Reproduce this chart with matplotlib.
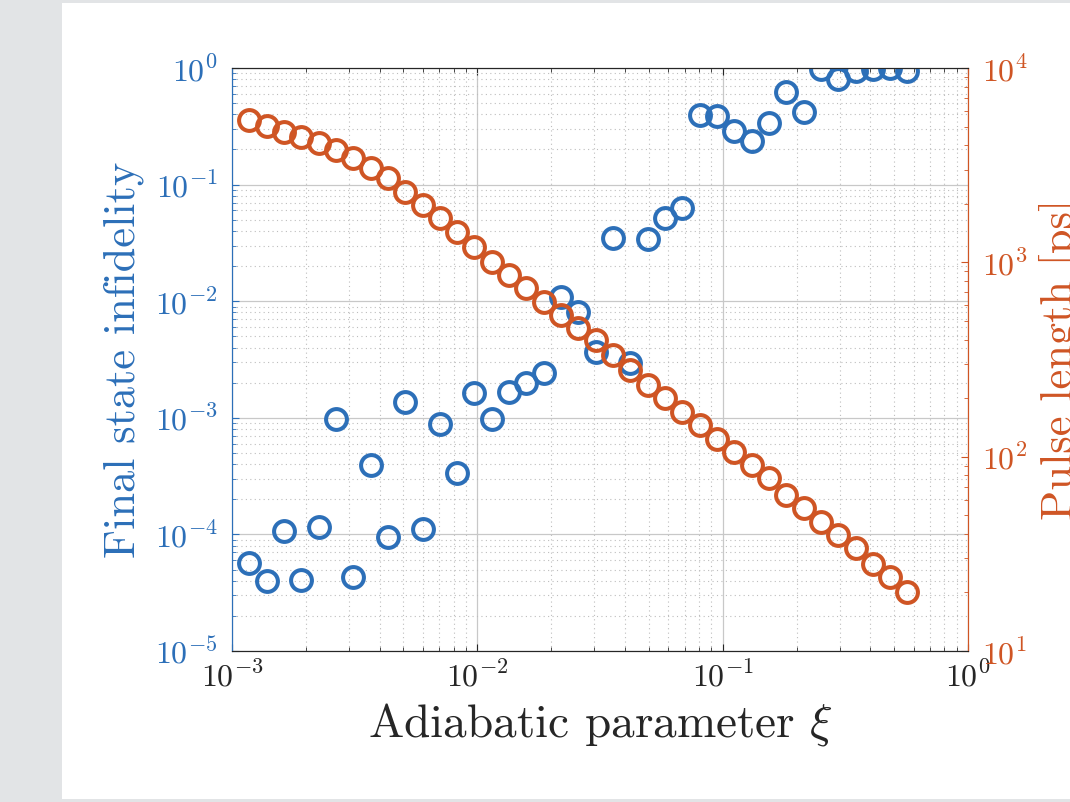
import math
import matplotlib
matplotlib.use("Agg")
import matplotlib.pyplot as plt
from matplotlib.patches import Rectangle
from matplotlib.ticker import LogLocator, FuncFormatter, NullFormatter

# MATLAB-like LaTeX look
plt.rcParams["mathtext.fontset"] = "cm"
plt.rcParams["font.family"] = "serif"
plt.rcParams["font.serif"] = ["cmr10", "DejaVu Serif"]
plt.rcParams["axes.formatter.use_mathtext"] = True

xi = [1.176e-3, 1.384e-3, 1.628e-3, 1.915e-3, 2.254e-3, 2.652e-3, 3.120e-3,
      3.671e-3, 4.319e-3, 5.081e-3, 5.978e-3, 7.033e-3, 8.275e-3, 9.734e-3,
      1.145e-2, 1.347e-2, 1.585e-2, 1.865e-2, 2.194e-2, 2.582e-2, 3.037e-2,
      3.573e-2, 4.204e-2, 4.946e-2, 5.819e-2, 6.846e-2, 8.055e-2, 9.478e-2,
      0.1115, 0.1312, 0.1543, 0.1816, 0.2136, 0.2513, 0.2957, 0.3479,
      0.4093, 0.4816, 0.5666]

# final state infidelity (left axis)
infidelity = [5.65e-5, 4.01e-5, 1.07e-4, 4.06e-5, 1.16e-4, 9.70e-4, 4.34e-5,
              3.91e-4, 9.44e-5, 1.37e-3, 1.12e-4, 8.80e-4, 3.38e-4, 1.62e-3,
              9.77e-4, 1.66e-3, 2.00e-3, 2.41e-3, 1.09e-2, 8.13e-3, 3.67e-3,
              3.46e-2, 2.93e-3, 3.41e-2, 5.14e-2, 6.34e-2, 0.395, 0.388,
              0.288, 0.238, 0.336, 0.626, 0.422, 0.975, 0.800, 0.948, 0.975,
              0.994, 0.948]

# pulse length in ps (right axis)
pulse_len = [5400, 5047, 4700, 4431, 4098, 3784, 3430, 3046, 2706, 2309,
             1972, 1684, 1427, 1203, 1007, 860, 735, 627, 535, 457, 398,
             333, 279, 234, 200, 170, 145, 124, 106, 90.5, 77.3, 63.5, 54.2,
             46.2, 39.5, 33.7, 28.2, 24.1, 20.2]

blue = "#2c6fb8"
orange = "#cf5524"
dark = "#262626"

fig = plt.figure(figsize=(10.7, 8.02), dpi=100)
fig.patch.set_facecolor("#e2e4e6")
fig.patches.append(Rectangle((62 / 1070, 3 / 802), 1 - 62 / 1070, 1 - 6 / 802,
                             transform=fig.transFigure, facecolor="white",
                             edgecolor="none", zorder=0))

ax = fig.add_axes([232 / 1070, 1 - 651 / 802, 736 / 1070, 583 / 802])
ax2 = ax.twinx()


def pow10(v, pos):
    return r"$10^{%d}$" % round(math.log10(v))


ax.set_xscale("log")
ax.set_yscale("log")
ax.set_xlim(1e-3, 1)
ax.set_ylim(1e-5, 1)
ax2.set_yscale("log")
ax2.set_ylim(10, 1e4)

for a in (ax, ax2):
    a.set_facecolor("none")
ax.set_zorder(1)
ax2.set_zorder(2)

for axis in (ax.xaxis, ax.yaxis, ax2.yaxis):
    axis.set_major_locator(LogLocator(10, numticks=10))
    axis.set_minor_locator(LogLocator(10, subs=range(2, 10), numticks=20))
    axis.set_major_formatter(FuncFormatter(pow10))
    axis.set_minor_formatter(NullFormatter())

ax.grid(True, which="major", color="#c8c8c8", linewidth=0.9, linestyle="-")
ax.grid(True, which="minor", color="#bdbdbd", linewidth=0.8, linestyle=(0, (1, 3)))
ax.set_axisbelow(True)

ax.plot(xi, infidelity, linestyle="none", marker="o", markersize=15,
        markerfacecolor="none", markeredgecolor=blue, markeredgewidth=2.9,
        zorder=3)
ax2.plot(xi, pulse_len, linestyle="none", marker="o", markersize=15,
         markerfacecolor="none", markeredgecolor=orange, markeredgewidth=2.9,
         zorder=3)

ax.tick_params(axis="x", which="both", direction="in", top=True, colors=dark,
               labelsize=23, pad=7)
ax.tick_params(axis="y", which="both", direction="in", right=False, colors=blue,
               labelsize=23, pad=10)
ax2.tick_params(axis="y", which="both", direction="in", colors=orange,
                labelsize=23, pad=10)
for a in (ax, ax2):
    a.tick_params(which="major", length=5, width=0.8)
    a.tick_params(which="minor", length=3, width=0.6)
    a.spines["top"].set_color(dark)
    a.spines["bottom"].set_color(dark)
    a.spines["left"].set_color(blue)
    a.spines["right"].set_color(orange)

ax.set_xlabel(r"Adiabatic parameter $\xi$", fontsize=34, color=dark, labelpad=6)
ax.set_ylabel("Final state infidelity", fontsize=32, color=blue, labelpad=8)
ax2.set_ylabel("Pulse length [ps]", fontsize=32, color=orange, labelpad=8)

fig.savefig("out.png", dpi=100, facecolor=fig.get_facecolor())
